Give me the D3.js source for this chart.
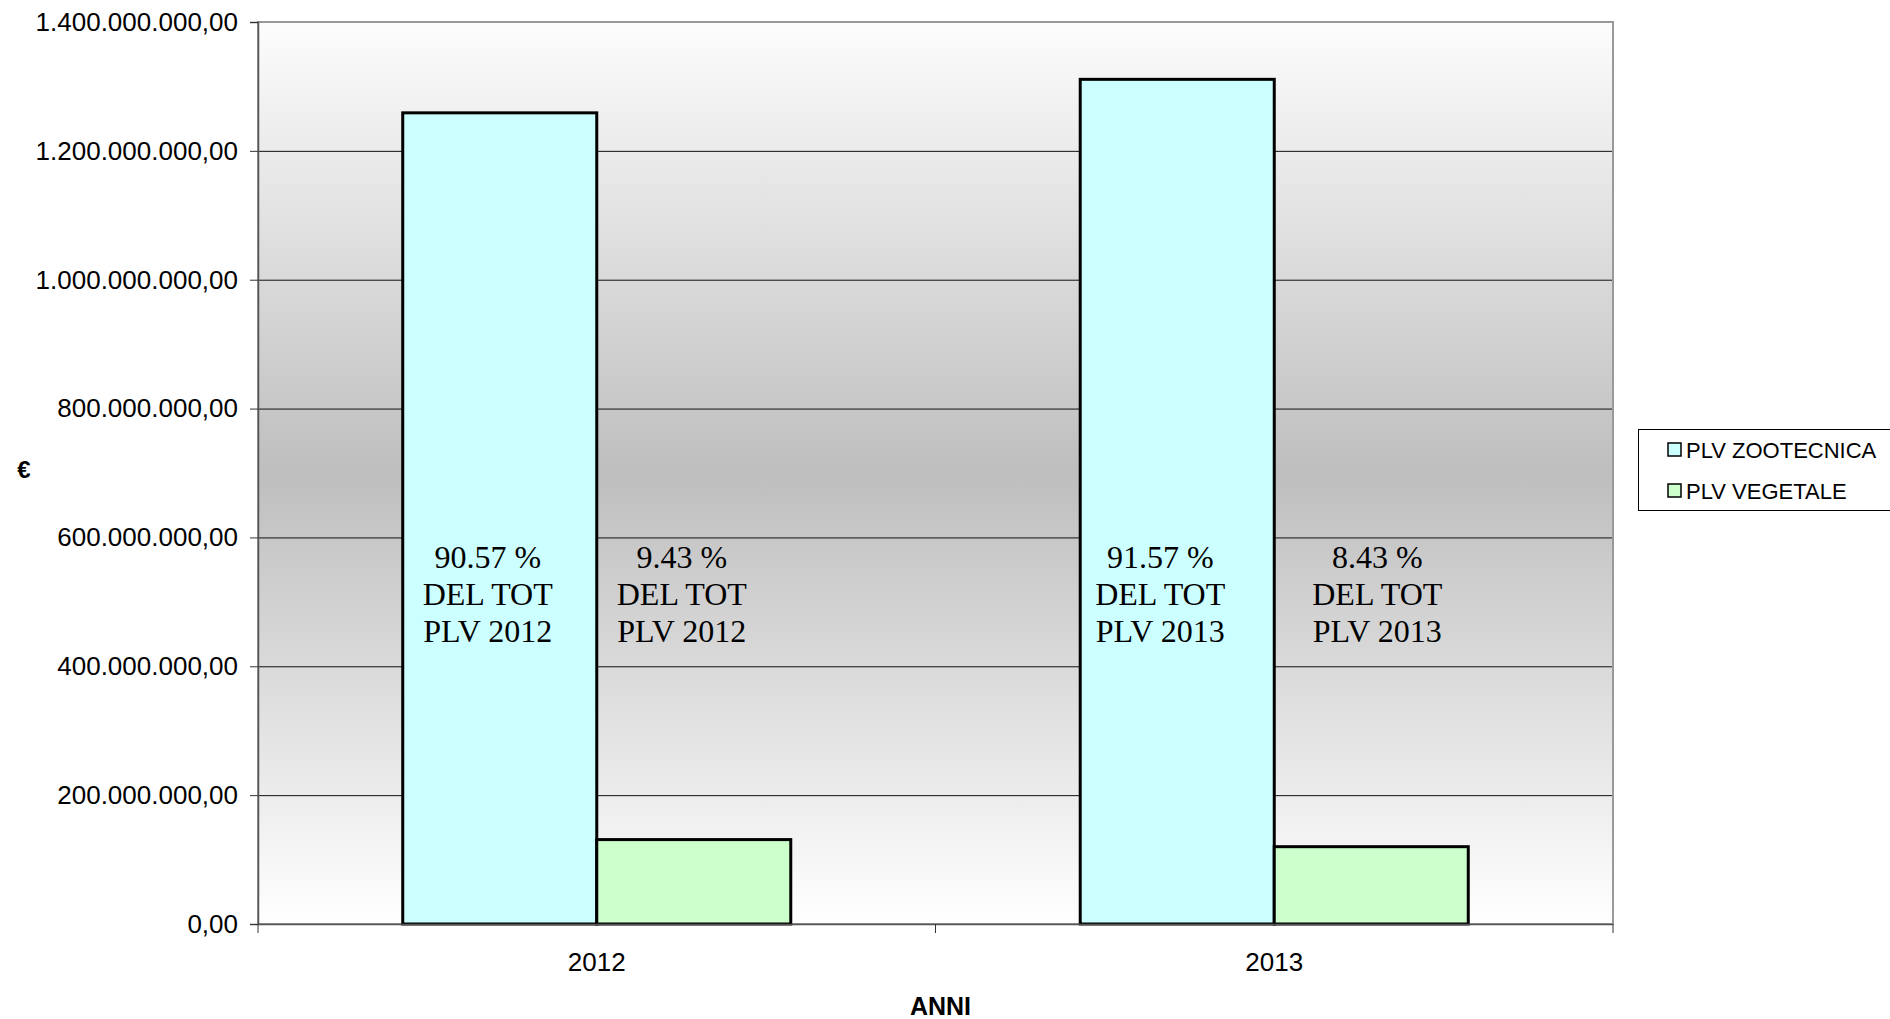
<!DOCTYPE html>
<html><head><meta charset="utf-8">
<script src="https://cdn.jsdelivr.net/npm/d3@7"></script>
<style>body{margin:0;background:#fff}svg{display:block}</style>
</head><body>
<svg id="c" width="1890" height="1019"></svg>
<script>
const years = ["2012", "2013"];
const seriesNames = ["PLV ZOOTECNICA", "PLV VEGETALE"];
const zootecnica = [1259000000, 1311000000];
const vegetale = [131000000, 120000000];
const yTicks = [0, 200000000, 400000000, 600000000, 800000000, 1000000000, 1200000000, 1400000000];
const pctLabels = [["90.57 %", "9.43 %"], ["91.57 %", "8.43 %"]];
const colors = ["#CCFFFF", "#CCFFCC"];

const svg = d3.select("#c");
const L = 258, R = 1613, T = 22, B = 924;
const loc = d3.formatLocale({decimal: ",", thousands: ".", grouping: [3], currency: ["", "€"]});
const fmt = loc.format(",.2f");

const y = d3.scaleLinear().domain([0, 1400000000]).range([B, T]);
const x0 = d3.scaleBand().domain(years).range([L, R]).padding(0);
const x1 = d3.scaleBand().domain(seriesNames).range([0, x0.bandwidth()]).paddingInner(0).paddingOuter(0.746);

const defs = svg.append("defs");
const grad = defs.append("linearGradient").attr("id", "bg").attr("x1", 0).attr("y1", 0).attr("x2", 0).attr("y2", 1);
grad.append("stop").attr("offset", "0%").attr("stop-color", "#fdfdfd");
grad.append("stop").attr("offset", "50%").attr("stop-color", "#bebebe");
grad.append("stop").attr("offset", "100%").attr("stop-color", "#ffffff");

svg.append("rect").attr("x", L).attr("y", T).attr("width", R - L).attr("height", B - T).attr("fill", "url(#bg)");

// gridlines
svg.append("g").selectAll("line").data(yTicks.filter(d => d > 0 && d < 1400000000)).join("line")
  .attr("x1", L).attr("x2", R).attr("y1", d => y(d) + 0.5).attr("y2", d => y(d) + 0.5)
  .attr("stroke", "#111").attr("stroke-width", 1);

// plot border
svg.append("rect").attr("x", L).attr("y", T).attr("width", R - L).attr("height", B - T)
  .attr("fill", "none").attr("stroke", "#999").attr("stroke-width", 2);

// bars
const data = years.map((yr, i) => ({year: yr, vals: [zootecnica[i], vegetale[i]]}));
const g = svg.append("g").selectAll("g").data(data).join("g")
  .attr("transform", d => `translate(${x0(d.year)},0)`);
g.selectAll("rect").data(d => d.vals.map((v, j) => ({v, s: seriesNames[j], j}))).join("rect")
  .attr("x", d => x1(d.s)).attr("width", x1.bandwidth())
  .attr("y", d => y(d.v)).attr("height", d => B - y(d.v))
  .attr("fill", d => colors[d.j]).attr("stroke", "#000").attr("stroke-width", 3);

// axes
const yAxis = d3.axisLeft(y).tickValues(yTicks).tickFormat(fmt).tickSize(8).tickPadding(12);
const ya = svg.append("g").attr("transform", `translate(${L},0)`).call(yAxis);
ya.select(".domain").attr("stroke", "#555").attr("stroke-width", 1.5);
ya.selectAll("text").attr("font-family", "Liberation Sans, Arial, sans-serif").attr("font-size", 26).attr("fill", "#000");
ya.selectAll(".tick line").attr("stroke", "#333");

const xa = svg.append("g").attr("transform", `translate(0,${B})`);
xa.append("line").attr("x1", L).attr("x2", R).attr("y1", 0.5).attr("y2", 0.5).attr("stroke", "#555").attr("stroke-width", 1.5);
const bounds = [L, ...years.map(yr => x0(yr) + x0.bandwidth())];
xa.selectAll("line.t").data(bounds).join("line").attr("class", "t")
  .attr("x1", d => d).attr("x2", d => d).attr("y1", 0).attr("y2", 9).attr("stroke", "#333");
xa.selectAll("text").data(years).join("text")
  .attr("x", d => x0(d) + x0.bandwidth() / 2).attr("y", 47)
  .attr("text-anchor", "middle").attr("font-family", "Liberation Sans, Arial, sans-serif")
  .attr("font-size", 26).text(d => d);

// titles
svg.append("text").attr("x", (L + R) / 2 + 5).attr("y", 1015).attr("text-anchor", "middle")
  .attr("font-family", "Liberation Sans, Arial, sans-serif").attr("font-weight", "bold").attr("font-size", 25).text("ANNI");
svg.append("text").attr("x", 24).attr("y", 478).attr("text-anchor", "middle")
  .attr("font-family", "Liberation Sans, Arial, sans-serif").attr("font-weight", "bold").attr("font-size", 24).text("€");

// annotations (text boxes placed near each bar)
const annotShift = [[-12, -12], [-17, 6]];
data.forEach((d, i) => {
  seriesNames.forEach((s, j) => {
    const cx = x0(d.year) + x1(s) + x1.bandwidth() / 2 + annotShift[i][j];
    const t = svg.append("text").attr("text-anchor", "middle")
      .attr("font-family", "Liberation Serif, Times New Roman, serif").attr("font-size", 32).attr("fill", "#000");
    [pctLabels[i][j], "DEL TOT", "PLV " + d.year].forEach((ln, k) => {
      t.append("tspan").attr("x", cx).attr("y", 568 + k * 37).text(ln);
    });
  });
});

// legend
const lg = svg.append("g");
lg.append("rect").attr("x", 1638.5).attr("y", 429.5).attr("width", 262).attr("height", 81)
  .attr("fill", "#fff").attr("stroke", "#000").attr("stroke-width", 1);
seriesNames.forEach((s, j) => {
  const cy = 450 + j * 41;
  lg.append("rect").attr("x", 1668).attr("y", cy - 7).attr("width", 13).attr("height", 13)
    .attr("fill", colors[j]).attr("stroke", "#000").attr("stroke-width", 1.5);
  lg.append("text").attr("x", 1686).attr("y", cy + 8).attr("font-family", "Liberation Sans, Arial, sans-serif")
    .attr("font-size", 22).text(s);
});
</script>
</body></html>
